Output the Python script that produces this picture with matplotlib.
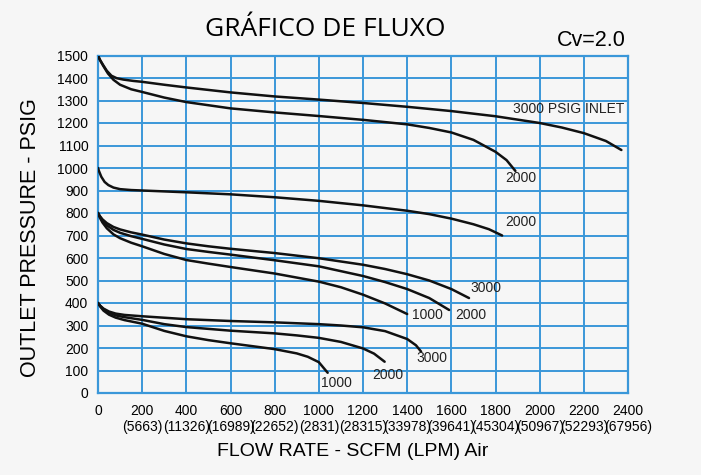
import matplotlib.pyplot as plt

# --- curve data (flow SCFM, outlet pressure PSIG) ---
flow_1500_3000 = [0, 8, 23, 40, 61, 85, 115, 160, 200, 300, 400, 600, 800, 1000, 1200,
                  1400, 1600, 1800, 2000, 2100, 2200, 2300, 2370]
pres_1500_3000 = [1500, 1482, 1458, 1432, 1410, 1399, 1393, 1387, 1383, 1370, 1358, 1336, 1318, 1304, 1289,
                  1272, 1253, 1230, 1200, 1180, 1155, 1120, 1080]

flow_1500_2000 = [0, 10, 25, 45, 70, 100, 150, 200, 300, 400, 600, 800, 1000, 1200,
                  1400, 1500, 1600, 1700, 1800, 1850, 1890]
pres_1500_2000 = [1500, 1478, 1452, 1420, 1392, 1370, 1350, 1338, 1313, 1293, 1265, 1247, 1231, 1214,
                  1194, 1178, 1158, 1125, 1072, 1035, 987]

flow_1000_2000 = [0, 5, 15, 30, 47, 70, 100, 150, 200, 400, 600, 800, 1000, 1200,
                  1400, 1500, 1600, 1700, 1770, 1830]
pres_1000_2000 = [1000, 985, 961, 938, 924, 913, 906, 902, 900, 892, 883, 870, 854, 834,
                  810, 795, 775, 750, 728, 700]

flow_800_3000 = [0, 8, 20, 40, 70, 100, 150, 200, 300, 400, 500, 600, 800, 1000,
                 1200, 1300, 1400, 1500, 1600, 1680]
pres_800_3000 = [800, 787, 772, 755, 738, 727, 714, 704, 682, 665, 652, 641, 622, 599,
                 570, 551, 528, 500, 462, 422]

flow_800_2000 = [0, 8, 20, 40, 70, 100, 150, 200, 300, 400, 500, 600, 800, 1000,
                 1200, 1300, 1400, 1500, 1590]
pres_800_2000 = [800, 785, 767, 745, 725, 712, 697, 685, 660, 640, 627, 615, 590, 563,
                 520, 493, 462, 422, 369]

flow_800_1000 = [0, 8, 20, 40, 70, 100, 150, 200, 300, 400, 500, 600, 800, 1000,
                 1100, 1200, 1300, 1400]
pres_800_1000 = [800, 780, 758, 732, 705, 688, 668, 652, 618, 591, 575, 560, 531, 495,
                 470, 437, 398, 351]

flow_400_3000 = [0, 10, 25, 50, 80, 120, 200, 400, 600, 800, 1000, 1100, 1200,
                 1300, 1400, 1440, 1463]
pres_400_3000 = [400, 388, 375, 362, 353, 347, 341, 328, 320, 314, 306, 300, 292,
                 275, 240, 212, 184]

flow_400_2000 = [0, 10, 25, 50, 80, 120, 200, 300, 400, 600, 800, 900, 1000, 1100,
                 1200, 1250, 1298]
pres_400_2000 = [400, 387, 372, 357, 345, 337, 325, 306, 293, 277, 265, 256, 245, 227,
                 198, 175, 139]

flow_400_1000 = [0, 10, 25, 50, 80, 120, 200, 300, 400, 500, 600, 700, 800, 900,
                 950, 1000, 1040]
pres_400_1000 = [400, 384, 366, 348, 335, 324, 308, 276, 252, 235, 221, 208, 195, 176,
                 161, 137, 90]

# curve end labels: (text, x, y)
label_text = ["3000 PSIG INLET", "2000", "2000", "3000", "2000", "1000", "3000", "2000", "1000"]
label_x = [1877, 1846, 1843, 1685, 1617, 1422, 1444, 1240, 1012]
label_y = [1261, 954, 759, 465, 347, 347, 154, 80, 46]

x_ticks = [0, 200, 400, 600, 800, 1000, 1200, 1400, 1600, 1800, 2000, 2200, 2400]
lpm_labels = ["", "5663", "11326", "16989", "22652", "2831", "28315", "33978",
              "39641", "45304", "50967", "52293", "67956"]
y_ticks = list(range(0, 1600, 100))

curves = [
    (flow_1500_3000, pres_1500_3000),
    (flow_1500_2000, pres_1500_2000),
    (flow_1000_2000, pres_1000_2000),
    (flow_800_3000, pres_800_3000),
    (flow_800_2000, pres_800_2000),
    (flow_800_1000, pres_800_1000),
    (flow_400_3000, pres_400_3000),
    (flow_400_2000, pres_400_2000),
    (flow_400_1000, pres_400_1000),
]

bg = "#f6f6f6"
grid_blue = "#3a97d9"
sans = ["Liberation Sans", "DejaVu Sans"]

fig = plt.figure(figsize=(7.01, 4.75), dpi=100, facecolor=bg)
ax = fig.add_axes([98 / 701, 82 / 475, 530 / 701, 337.5 / 475])
ax.set_facecolor(bg)

for fx, py in curves:
    ax.plot(fx, py, color="#111111", lw=1.8, solid_capstyle="round",
            solid_joinstyle="round", zorder=3)

for t, lx, ly in zip(label_text, label_x, label_y):
    ax.text(lx, ly, t, fontsize=10, family=sans, color="#222222",
            ha="left", va="center", zorder=4)

ax.set_xlim(0, 2400)
ax.set_ylim(0, 1500)
ax.set_xticks(x_ticks)
ax.set_xticklabels([f"{v}\n({l})" if l else f"{v}\n" for v, l in zip(x_ticks, lpm_labels)],
                   fontsize=10, family=sans, linespacing=1.2)
ax.set_yticks(y_ticks)
ax.set_yticklabels([str(v) for v in y_ticks], fontsize=10, family=sans)
ax.tick_params(length=0, pad=7)
ax.tick_params(axis="x", pad=8)
ax.grid(True, color=grid_blue, lw=1.4)
ax.set_axisbelow(True)
for s in ax.spines.values():
    s.set_color(grid_blue)
    s.set_linewidth(1.6)

fig.text(353 / 701, 1 - 451 / 475, "FLOW RATE - SCFM (LPM) Air", fontsize=14,
         family=sans, ha="center", va="center")
fig.text(31 / 701, 1 - 238 / 475, "OUTLET PRESSURE - PSIG", fontsize=15.5,
         family=sans, ha="center", va="center", rotation=90)

fig.text(325 / 701, 1 - 30 / 475, "GRÁFICO DE FLUXO", fontsize=19,
         family=["Open Sans", "DejaVu Sans"], ha="center", va="center")
fig.text(591 / 701, 1 - 41 / 475, "Cv=2.0", fontsize=15.5, family=sans,
         ha="center", va="center")

fig.savefig("out.png", dpi=100, facecolor=bg)
